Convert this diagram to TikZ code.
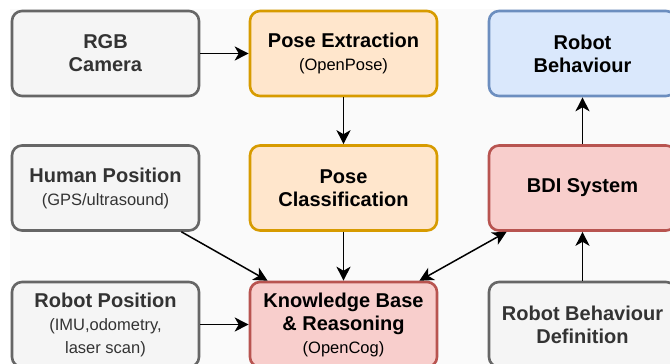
\documentclass[tikz,border=0pt]{standalone}
\usepackage{fontspec}
\setmainfont{Liberation Sans}
\usepackage{xcolor}
\usetikzlibrary{arrows.meta}
\definecolor{bgfill}{HTML}{FAFAFA}
\definecolor{grayfill}{HTML}{F5F5F5}
\definecolor{graydraw}{HTML}{666666}
\definecolor{graytext}{HTML}{333333}
\definecolor{orgfill}{HTML}{FFE6CC}
\definecolor{orgdraw}{HTML}{D79B00}
\definecolor{bluefill}{HTML}{DAE8FC}
\definecolor{bluedraw}{HTML}{6C8EBF}
\definecolor{redfill}{HTML}{F8CECC}
\definecolor{reddraw}{HTML}{B85450}
\newcommand{\ttl}[1]{\textbf{#1}}
\newcommand{\subtxt}[1]{{\fontsize{16.5}{23}\selectfont #1}}

\begin{document}
\begin{tikzpicture}[x=1pt, y=-1pt,
  box/.style={draw, rounded corners=10pt, line width=2.6pt, minimum width=187pt, minimum height=85pt,
    align=center, font=\fontsize{20}{23}\selectfont, inner sep=2pt},
  inbox/.style={box, fill=grayfill, draw=graydraw, text=graytext},
  pose/.style={box, fill=orgfill, draw=orgdraw},
  outbox/.style={box, fill=bluefill, draw=bluedraw},
  core/.style={box, fill=redfill, draw=reddraw},
  >={Stealth[length=14pt, width=14pt, inset=4pt]},
  arr/.style={->, line width=1.5pt},
]
\useasboundingbox (0,0) rectangle (670,364);
\clip (0,0) rectangle (670,364);
\fill[bgfill] (10,9) rectangle (670,364);
% inputs
\node[inbox] (rgb) at (105.5,53.5) {\ttl{RGB}\\\ttl{Camera}};
\node[inbox] (hum) at (105.5,188) {\ttl{Human Position}\\\subtxt{(GPS/ultrasound)}};
\node[inbox] (rpos) at (105.5,324.5) {\ttl{Robot Position}\\\subtxt{(IMU,odometry,}\\\subtxt{laser scan)}};
% pose pipeline
\node[pose] (pext) at (343.5,53.5) {\ttl{Pose Extraction}\\\subtxt{(OpenPose)}};
\node[pose] (pcls) at (343.5,188) {\ttl{Pose}\\\ttl{Classification}};
\node[core] (kb) at (343.5,324.5) {\ttl{Knowledge Base}\\\ttl{\& Reasoning}\\\subtxt{(OpenCog)}};
% robot side
\node[outbox] (rbeh) at (582.5,53.5) {\ttl{Robot}\\\ttl{Behaviour}};
\node[core] (bdi) at (582.5,188) {\ttl{BDI System}};
\node[inbox] (rdef) at (582.5,324.5) {\ttl{Robot Behaviour}\\\ttl{Definition}};
% connectors
\draw[arr] (rgb) -- (pext);
\draw[arr] (pext) -- (pcls);
\draw[arr] (pcls) -- (kb);
\draw[arr] (hum.-30) -- (kb.150);
\draw[arr] (rpos) -- (kb);
\draw[arr, <->] (kb.30) -- (bdi.210);
\draw[arr] (bdi) -- (rbeh);
\draw[arr] (rdef) -- (bdi);
\end{tikzpicture}
\end{document}
